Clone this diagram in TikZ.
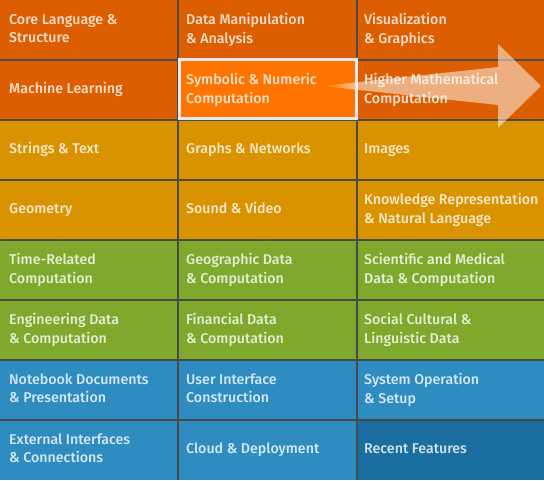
\documentclass[tikz,border=0pt]{standalone}
\usepackage{fontspec}
\setmainfont{Fira Sans}[UprightFont=* Medium]
\usetikzlibrary{positioning}
\usepackage{xcolor}
\definecolor{guideOrange}{HTML}{DC5E00}
\definecolor{guideHot}{HTML}{FF7400}
\definecolor{guideAmber}{HTML}{D99200}
\definecolor{guideGreen}{HTML}{80A82C}
\definecolor{guideBlue}{HTML}{2E8CC0}
\definecolor{guideDeep}{HTML}{1B6FA0}
\definecolor{guideLine}{HTML}{4A4A4A}
\definecolor{guideRim}{HTML}{E8EAF2}

\begin{document}
\begin{tikzpicture}[x=1pt,y=-1pt]
\tikzstyle{cellbox}=[anchor=north west,minimum height=60pt,inner sep=0pt,outer sep=0pt]
\tikzstyle{celltext}=[anchor=west,align=left,inner sep=0pt,text depth=3.5pt,text=white,text opacity=.8,font=\fontsize{14.2}{18.5}\selectfont]
\tikzstyle{gridline}=[draw=guideLine,line width=2.5pt]
\useasboundingbox (0,0) rectangle (544,480);
% cells, one row at a time
\foreach \r/\ca/\cb/\cc/\ta/\tb/\tc in {
  1/guideOrange/guideOrange/guideOrange/{Core Language \&\\Structure}/{Data Manipulation\\\& Analysis}/{Visualization\\\& Graphics},
  2/guideOrange/guideHot/guideOrange/{Machine Learning}/{Symbolic \& Numeric\\Computation}/{Higher Mathematical\\Computation},
  3/guideAmber/guideAmber/guideAmber/{Strings \& Text}/{Graphs \& Networks}/{Images},
  4/guideAmber/guideAmber/guideAmber/{Geometry}/{Sound \& Video}/{Knowledge Representation\\\& Natural Language},
  5/guideGreen/guideGreen/guideGreen/{Time-Related\\Computation}/{Geographic Data\\\& Computation}/{Scientific and Medical\\Data \& Computation},
  6/guideGreen/guideGreen/guideGreen/{Engineering Data\\\& Computation}/{Financial Data\\\& Computation}/{Social Cultural \&\\Linguistic Data},
  7/guideBlue/guideBlue/guideBlue/{Notebook Documents\\\& Presentation}/{User Interface\\Construction}/{System Operation\\\& Setup},
  8/guideBlue/guideBlue/guideDeep/{External Interfaces\\\& Connections}/{Cloud \& Deployment}/{Recent Features}}{
  \node[cellbox,fill=\ca,minimum width=178pt] (c-\r-1) at (0,{60*(\r-1)}) {};
  \node[cellbox,fill=\cb,minimum width=179pt] (c-\r-2) at (178,{60*(\r-1)}) {};
  \node[cellbox,fill=\cc,minimum width=187pt] (c-\r-3) at (357,{60*(\r-1)}) {};
  \node[celltext,right=9pt of c-\r-1.west] (t-\r-1) {\ta};
  \node[celltext,right=8pt of c-\r-2.west] (t-\r-2) {\tb};
  \node[celltext,right=7pt of c-\r-3.west] (t-\r-3) {\tc};
}
% grid
\foreach \r in {1,...,7}{\draw[gridline] (c-\r-1.south west) -- (c-\r-3.south east);}
\foreach \k in {2,3}{\draw[gridline] (c-1-\k.north west) -- (c-8-\k.south west);}
% highlighted cell
\draw[draw=guideRim,line width=3pt] ([shift={(1,-0.5)}]c-2-2.north west) rectangle ([shift={(-0.5,-1.5)}]c-2-2.south east);
% arrow
\shade[left color=guideHot,right color=guideHot!45!white] (322,86) -- (355.5,82.4) -- (355.5,89.6) -- cycle;
\fill[white,fill opacity=.5] (355.5,82.4) -- (498,67) -- (498,44) -- (541,86) -- (498,128) -- (498,105) -- (355.5,89.6) -- cycle;
\end{tikzpicture}
\end{document}
